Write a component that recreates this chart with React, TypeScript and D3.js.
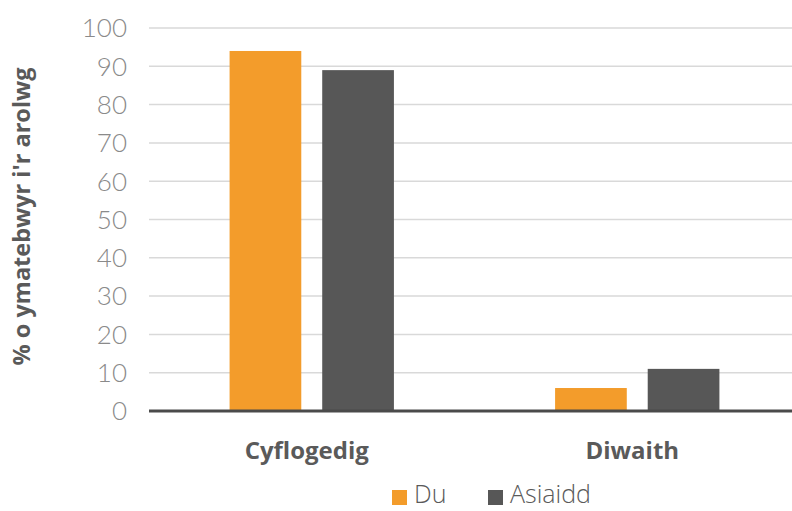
import React from "react";
import * as d3 from "d3";

const categories = ["Cyflogedig", "Diwaith"];
const seriesNames = ["Du", "Asiaidd"];
const duValues = [94, 6];
const asiaiddValues = [89, 11];
const yTicks = [0, 10, 20, 30, 40, 50, 60, 70, 80, 90, 100];
const yTitle = "% o ymatebwyr i'r arolwg";

const colors = ["#F39C2B", "#575757"];

export default function App() {
  const W = 792, H = 511;
  const left = 149, right = 800, top = 28, bottom = 411;
  const y = d3.scaleLinear().domain([0, 100]).range([bottom, top]);
  const x0 = d3.scaleBand<string>().domain(categories).range([left, right]).padding(0);
  const x1 = d3.scaleBand<string>().domain(seriesNames).range([0, x0.step()]).paddingInner(0.226).paddingOuter(0.87);
  const series = [duValues, asiaiddValues];

  return (
    <svg width={W} height={H} style={{ position: "absolute", left: 0, top: 0, background: "#fff" }}>
      {yTicks.filter(t => t > 0).map(t => (
        <line key={t} x1={left} x2={W} y1={y(t)} y2={y(t)} stroke="#d9d9d9" strokeWidth={1.5} />
      ))}
      {yTicks.map(t => (
        <text key={"l" + t} x={127} y={y(t)} dy="0.36em" textAnchor="end" fontFamily="Lato" fontWeight={300} fontSize={26} fill="#8a8a8a">{t}</text>
      ))}
      {categories.map((c, ci) => (
        <g key={c}>
          {seriesNames.map((s, si) => (
            <rect key={s} x={(x0(c) ?? 0) + (x1(s) ?? 0)} width={x1.bandwidth()} y={y(series[si][ci])} height={y(0) - y(series[si][ci])} fill={colors[si]} />
          ))}
          <text x={(x0(c) ?? 0) + x0.bandwidth() / 2 - 5} y={459} textAnchor="middle" fontFamily="Open Sans" fontWeight={700} fontSize={24} fill="#5a5a5a">{c}</text>
        </g>
      ))}
      <line x1={left} x2={W} y1={y(0)} y2={y(0)} stroke="#4a4a4a" strokeWidth={3} />
      <text transform={`translate(30,${(65 + 368) / 2}) rotate(-90)`} textAnchor="middle" fontFamily="Open Sans" fontWeight={700} fontSize={23.5} fill="#5a5a5a">{yTitle}</text>
      {seriesNames.map((s, i) => {
        const lx = [392, 488][i];
        return (
          <g key={s}>
            <rect x={lx} y={490} width={15} height={15} fill={colors[i]} />
            <text x={lx + 22} y={503} fontFamily="Open Sans" fontWeight={300} fontSize={25} fill="#5a5a5a">{s}</text>
          </g>
        );
      })}
    </svg>
  );
}
